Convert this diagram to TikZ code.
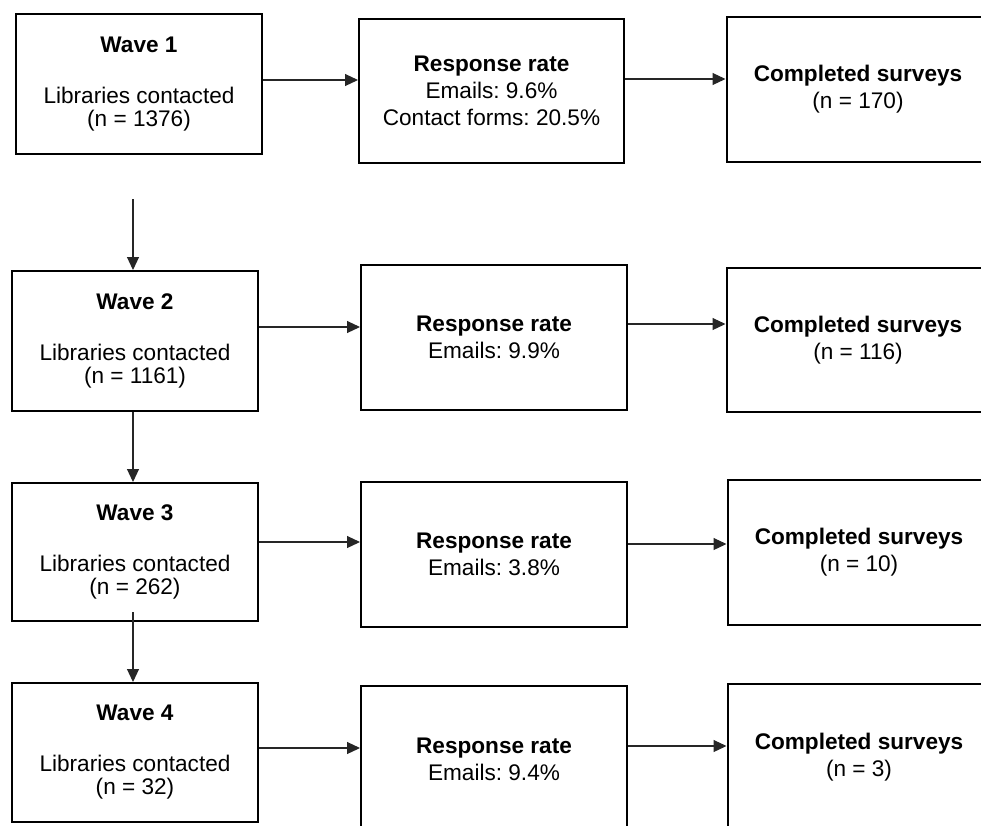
\documentclass[tikz,border=0pt]{standalone}
\usepackage{fontspec}
\setmainfont{Liberation Sans}
\usetikzlibrary{arrows.meta,positioning,calc}
\frenchspacing

\begin{document}
\begin{tikzpicture}
[x=1pt, y=-1pt,
    font=\fontsize{22.6}{27}\selectfont,
    ->, >={Triangle[length=13pt,width=12pt]},
    every node/.style={rectangle, draw=black, line width=2pt,
    inner sep=0pt, align=center},
    wavebox/.style={minimum width=246pt, minimum height=140pt},
    ratebox/.style={minimum width=266pt, minimum height=145pt},
    donebox/.style={minimum width=263pt, minimum height=145pt},
    arr/.style={draw=black!85, line width=1.1pt},
    ]
    \useasboundingbox (0,0) rectangle (981,825);

    % waves, left column
    \node[wavebox] (wave1) at (139,84)
        {\textbf{Wave 1}\\[24pt] Libraries contacted\\[-4pt] (n = 1376)};
    \node[wavebox] (wave2) at (135,341)
        {\textbf{Wave 2}\\[24pt] Libraries contacted\\[-4pt] (n = 1161)};
    \node[wavebox, minimum height=138pt] (wave3) at (135,552)
        {\textbf{Wave 3}\\[24pt] Libraries contacted\\[-4pt] (n = 262)};
    \node[wavebox, minimum height=139pt] (wave4) at (135,752.5)
        {\textbf{Wave 4}\\[24pt] Libraries contacted\\[-4pt] (n = 32)};

    % response rates, middle column
    \node[ratebox, minimum width=265pt, minimum height=144pt] (rate1) at (491.5,91)
        {\textbf{Response rate}\\ Emails: 9.6\%\\ Contact forms: 20.5\%};
    \node[ratebox] (rate2) at (494,337.5)
        {\textbf{Response rate}\\ Emails: 9.9\%};
    \node[ratebox] (rate3) at (494,554.5)
        {\textbf{Response rate}\\ Emails: 3.8\%};
    \node[ratebox, minimum height=146pt] (rate4) at (494,759)
        {\textbf{Response rate}\\ Emails: 9.4\%};

    % completed surveys, right column
    \node[donebox] (done1) at (858,89.5)
        {\textbf{Completed surveys}\\ (n = 170)};
    \node[donebox, minimum height=144pt] (done2) at (858,340)
        {\textbf{Completed surveys}\\ (n = 116)};
    \node[donebox] (done3) at (859,552.5)
        {\textbf{Completed surveys}\\ (n = 10)};
    \node[donebox, minimum height=146pt] (done4) at (859,757)
        {\textbf{Completed surveys}\\ (n = 3)};

    \coordinate (gap1) at (133,199);

    % rows
    \draw[arr] ([yshift=4pt]wave1.east) -- ([yshift=4pt]wave1.east -| rate1.west);
    \draw[arr] ([yshift=12pt]rate1.east) -- ([yshift=12pt]rate1.east -| done1.west);
    \draw[arr] ([yshift=14pt]wave2.east) -- ([yshift=14pt]wave2.east -| rate2.west);
    \draw[arr] ([yshift=13.5pt]rate2.east) -- ([yshift=13.5pt]rate2.east -| done2.west);
    \draw[arr] ([yshift=10pt]wave3.east) -- ([yshift=10pt]wave3.east -| rate3.west);
    \draw[arr] ([yshift=10.5pt]rate3.east) -- ([yshift=10.5pt]rate3.east -| done3.west);
    \draw[arr] ([yshift=4.5pt]wave4.east) -- ([yshift=4.5pt]wave4.east -| rate4.west);
    \draw[arr] ([yshift=13pt]rate4.east) -- ([yshift=13pt]rate4.east -| done4.west);

    % waves down
    \draw[arr] (gap1) -- (gap1 |- wave2.north);
    \draw[arr] ([xshift=-2pt]wave2.south) -- ([xshift=-2pt]wave3.north);
    \draw[arr] ([xshift=-2pt,yshift=10pt]wave3.south) -- ([xshift=-2pt]wave4.north);

\end{tikzpicture}
\end{document}
